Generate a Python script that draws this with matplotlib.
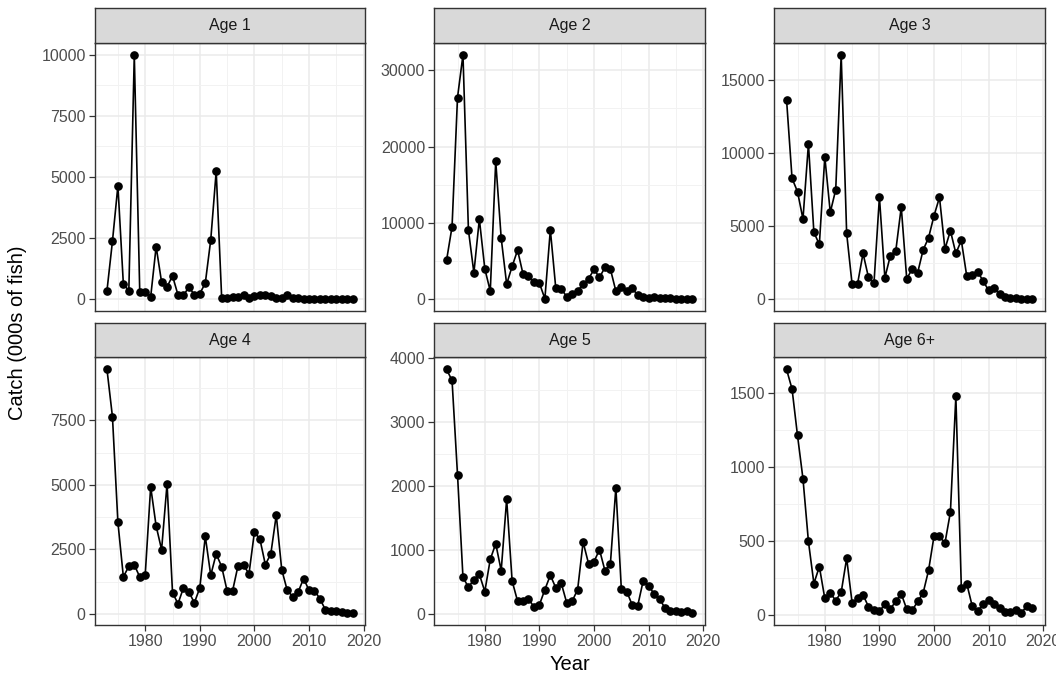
import matplotlib
matplotlib.use("Agg")
import matplotlib.pyplot as plt
import numpy as np
from matplotlib.ticker import MultipleLocator

plt.rcParams['font.family'] = ['Liberation Sans', 'DejaVu Sans']

years = np.arange(1973, 2019)

age1 = [354, 2370, 4640, 613, 354, 9990, 300, 300, 95, 2150, 695, 504, 953, 177, 163, 490,
        190, 231, 654, 2424, 5230, 68, 30, 110, 80, 163, 70, 120, 160, 190, 150, 70,
        70, 160, 40, 30, 25, 20, 20, 15, 15, 10, 10, 8, 6, 5]
age2 = [5145, 9505, 26420, 32000, 9070, 3490, 10510, 4010, 1090, 18090, 8020, 2005, 4316, 6453,
        3314, 3008, 2224, 2136, 87, 9112, 1439, 1395, 350, 654, 1090, 2005, 2703, 3924, 2878,
        4186, 3968, 1090, 1570, 1134, 1439, 567, 349, 218, 262, 218, 174, 131, 87, 87, 87, 44]
age3 = [13590, 8262, 7351, 5485, 10606, 4575, 3755, 9718, 5940, 7488, 16683, 4506, 1024, 1070,
        3141, 1502, 1092, 6987, 1479, 2982, 3323, 6304, 1411, 2071, 1821, 3368, 4210, 5713, 6965,
        3437, 4689, 3141, 4029, 1570, 1684, 1889, 1252, 615, 774, 364, 137, 91, 68, 46, 23, 23]
age4 = [9474, 7644, 3545, 1431, 1843, 1895, 1431, 1508, 4924, 3403, 2488, 5040, 825, 387, 1005,
        851, 425, 1005, 3003, 1495, 2320, 1830, 889, 889, 1869, 1895, 1547, 3171, 2900, 1908,
        2320, 3828, 1714, 915, 670, 838, 1366, 915, 902, 580, 155, 116, 90, 52, 39, 26]
age5 = [3823, 3652, 2177, 571, 416, 535, 618, 348, 852, 1096, 675, 1792, 514, 197, 192, 229,
        109, 140, 379, 603, 405, 478, 171, 197, 379, 1122, 784, 816, 1003, 675, 784, 1974, 390,
        348, 135, 125, 514, 436, 312, 234, 88, 47, 47, 21, 47, 10]
age6 = [1657, 1525, 1211, 919, 495, 211, 325, 110, 146, 96, 152, 381, 81, 112, 135, 54, 29, 22,
        72, 40, 90, 141, 38, 29, 90, 146, 300, 531, 529, 484, 693, 1475, 184, 209, 58, 22, 74,
        99, 74, 45, 18, 20, 29, 11, 61, 45]

series = [age1, age2, age3, age4, age5, age6]
titles = ["Age 1", "Age 2", "Age 3", "Age 4", "Age 5", "Age 6+"]
ysteps = [2500, 10000, 5000, 2500, 1000, 500]

W, H = 1056, 679
fig = plt.figure(figsize=(W / 100, H / 100), dpi=100)

lefts = [94.7, 434.3, 774.3]
pw = 270.3
rows = [(8.3, 42.7, 311.3), (323.3, 357.3, 625.3)]  # strip top, strip bottom/plot top, plot bottom

for i, (vals, title, step) in enumerate(zip(series, titles, ysteps)):
    r, c = divmod(i, 3)
    st, pt, pb = rows[r]
    x0 = lefts[c]
    ax = fig.add_axes([x0 / W, 1 - pb / H, pw / W, (pb - pt) / H])
    ax.plot(years, vals, color='black', lw=1.2, marker='o', ms=5.2, zorder=3)
    ax.set_xlim(1970.75, 2020.25)
    ax.set_xticks([1980, 1990, 2000, 2010, 2020])
    ax.xaxis.set_minor_locator(MultipleLocator(5))
    ax.yaxis.set_major_locator(MultipleLocator(step))
    ax.yaxis.set_minor_locator(MultipleLocator(step / 2))
    ax.grid(True, which='major', color='#EBEBEB', lw=1.1, zorder=0)
    ax.grid(True, which='minor', color='#F2F2F2', lw=0.7, zorder=0)
    ax.set_axisbelow(True)
    for s in ax.spines.values():
        s.set_color('#333333')
        s.set_linewidth(1.0)
    ax.tick_params(which='minor', length=0)
    ax.tick_params(which='major', length=4.5, color='#333333', width=0.9, pad=2,
                   labelsize=11.5, labelcolor='#4D4D4D')
    if r == 0:
        ax.tick_params(axis='x', which='major', length=0, labelbottom=False)

    sax = fig.add_axes([x0 / W, 1 - pt / H, pw / W, (pt - st) / H])
    sax.set_facecolor('#D9D9D9')
    sax.set_xticks([])
    sax.set_yticks([])
    for s in sax.spines.values():
        s.set_color('#333333')
        s.set_linewidth(1.0)
    sax.text(0.5, 0.5, title, ha='center', va='center', fontsize=11.5, color='#1A1A1A',
             transform=sax.transAxes)

fig.text(18 / W, 1 - 333 / H, "Catch (000s of fish)", rotation=90, ha='center', va='center',
         fontsize=14.5, color='black')
fig.text(569.5 / W, 1 - 664 / H, "Year", ha='center', va='center', fontsize=14.5, color='black')

fig.savefig("out.png", dpi=100, facecolor='white')
